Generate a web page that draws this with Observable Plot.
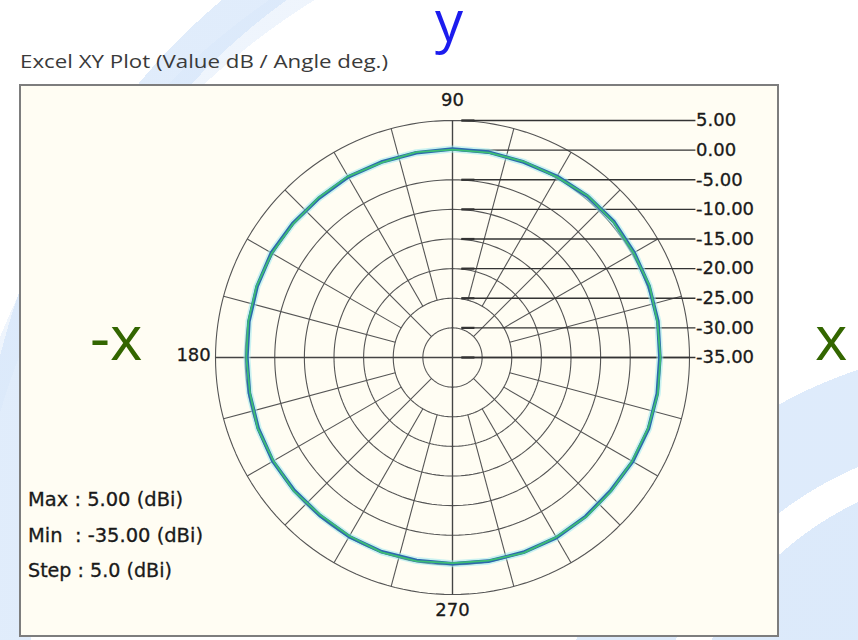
<!DOCTYPE html>
<html>
<head>
<meta charset="utf-8">
<script src="https://cdn.jsdelivr.net/npm/d3@7"></script>
<script src="https://cdn.jsdelivr.net/npm/@observablehq/plot@0.6"></script>
<style>
  html, body { margin: 0; padding: 0; background: #ffffff; }
  #page {
    position: relative; width: 858px; height: 640px; overflow: hidden;
    background:
      radial-gradient(circle at 1000px 800px, rgba(214,230,250,0.85) 0 330px, rgba(255,255,255,0.9) 330px 362px, rgba(214,230,250,0.8) 362px 453px, transparent 453px),
      radial-gradient(circle at 660px 520px, transparent 0 640px, rgba(214,230,250,0.75) 640px 680px, transparent 680px),
      radial-gradient(circle at 700px 620px, transparent 0 730px, rgba(228,238,251,0.6) 730px 755px, transparent 755px),
      #ffffff;
  }
  #frame {
    position: absolute; left: 19px; top: 84px; width: 756px; height: 549px;
    border: 2px solid #7d7d7d; background: #fffdf3;
  }
  #frame svg { display: block; }
  #overlay { position: absolute; left: 0; top: 0; pointer-events: none; }
</style>
</head>
<body>
<div id="page">
  <div id="frame"></div>
  <svg id="overlay" width="858" height="640"></svg>
</div>
<script>
// ---------------- data ----------------
const tickValues = [5, 0, -5, -10, -15, -20, -25, -30, -35];
const tickLabels = ["5.00", "0.00", "-5.00", "-10.00", "-15.00", "-20.00", "-25.00", "-30.00", "-35.00"];
const angleLabelValues = [90, 180, 270];
const angleLabelTexts = ["90", "180", "270"];
const spokeAngles = [0, 15, 30, 45, 60, 75, 90, 105, 120, 135, 150, 165, 180, 195, 210, 225, 240, 255, 270, 285, 300, 315, 330, 345];
const patternAngles = [0, 10, 20, 30, 40, 50, 60, 70, 80, 90, 100, 110, 120, 130, 140, 150, 160, 170, 180,
                       190, 200, 210, 220, 230, 240, 250, 260, 270, 280, 290, 300, 310, 320, 330, 340, 350, 360];
const seriesBlue  = [0.0, 0.2, 0.3, 0.4, 0.6, 0.5, 0.3, 0.1, 0.2, 0.2, 0.1, 0.1, 0.2, 0.1, 0.2, 0.3, 0.1, -0.1, -0.3,
                     -0.2, -0.1, 0.0, -0.1, -0.2, -0.1, -0.1, -0.2, -0.2, -0.1, 0.0, 0.1, 0.0, -0.1, 0.1, 0.2, 0.1, 0.0];
const seriesGreen = [0.1, 0.1, 0.4, 0.3, 0.5, 0.6, 0.2, 0.2, 0.1, 0.1, 0.2, 0.0, 0.3, 0.2, 0.1, 0.2, 0.2, 0.0, -0.2,
                     -0.3, 0.0, -0.1, 0.0, -0.3, -0.2, 0.0, -0.1, -0.3, -0.2, 0.1, 0.0, 0.1, 0.0, 0.0, 0.1, 0.2, 0.1];
const stepValue = 5;

// ---------------- geometry helpers ----------------
const rMin = d3.min(tickValues), rMax = d3.max(tickValues);
const rOf = v => v - rMin;
const rad = deg => deg * Math.PI / 180;
const px = (v, deg) => rOf(v) * Math.cos(rad(deg));
const py = (v, deg) => rOf(v) * Math.sin(rad(deg));
const R = rOf(rMax);

const W = 756, H = 549, cx = 431, cy = 271;
const k = 237 / R; // pixels per dB

const ringPts = tickValues.filter(v => v > rMin).flatMap(v => d3.range(0, 361, 2).map(a => ({v, a})));
const spokes = spokeAngles.map(a => ({a, r0: a % 90 === 0 ? 0 : a % 45 === 0 ? stepValue : 2 * stepValue}));
const axisLines = [0, 90].map(a => ({a}));

const blueRows = patternAngles.map((a, i) => ({a, v: seriesBlue[i]}));
const greenRows = patternAngles.map((a, i) => ({a, v: seriesGreen[i]}));
const tickRows = tickValues.map((v, i) => ({v, label: tickLabels[i]}));
const angleRows = angleLabelValues.map((a, i) => ({a, label: angleLabelTexts[i]}));

const leaderStart = 1.5, leaderEnd = 41.0;
const grid = "#555555";

const chart = Plot.plot({
  width: W, height: H,
  marginTop: 0, marginRight: 0, marginBottom: 0, marginLeft: 0,
  x: {domain: [-cx / k, (W - cx) / k], axis: null},
  y: {domain: [-(H - cy) / k, cy / k], axis: null},
  style: {background: "transparent", overflow: "visible"},
  marks: [
    Plot.line(ringPts, {x: d => px(d.v, d.a), y: d => py(d.v, d.a), z: "v", stroke: grid, strokeWidth: 1.1}),
    Plot.link(spokes, {
      x1: d => d.r0 * Math.cos(rad(d.a)), y1: d => d.r0 * Math.sin(rad(d.a)),
      x2: d => R * Math.cos(rad(d.a)), y2: d => R * Math.sin(rad(d.a)),
      stroke: grid, strokeWidth: 1.1
    }),
    Plot.link(axisLines, {
      x1: d => -R * Math.cos(rad(d.a)), y1: d => -R * Math.sin(rad(d.a)),
      x2: d => R * Math.cos(rad(d.a)), y2: d => R * Math.sin(rad(d.a)),
      stroke: "#444", strokeWidth: 1.3
    }),
    Plot.link(tickRows, {x1: () => leaderStart, x2: () => leaderEnd, y1: d => rOf(d.v), y2: d => rOf(d.v), stroke: "#333", strokeWidth: 1.3}),
    Plot.link(tickRows, {x1: () => leaderStart, x2: () => leaderStart + 2.2, y1: d => rOf(d.v), y2: d => rOf(d.v), stroke: "#333", strokeWidth: 2.2}),
    Plot.line(blueRows, {x: d => px(d.v, d.a), y: d => py(d.v, d.a), stroke: "#9fe9ee", strokeWidth: 7, strokeOpacity: 0.55}),
    Plot.line(blueRows, {x: d => px(d.v, d.a), y: d => py(d.v, d.a), stroke: "#2c68ad", strokeWidth: 3.6}),
    Plot.line(greenRows, {x: d => px(d.v, d.a), y: d => py(d.v, d.a), stroke: "#3dbd74", strokeWidth: 1.8}),
    Plot.text(tickRows, {x: () => leaderEnd + 0.1, y: d => rOf(d.v), text: "label", textAnchor: "start",
      fontFamily: "DejaVu Sans", fontSize: 18, fill: "#1a1a1a", stroke: "#1a1a1a", strokeWidth: 0.3}),
    Plot.text(angleRows.filter(d => d.a !== 180), {x: () => 0, y: d => (d.a === 90 ? 43.4 : 42.6) * Math.sin(rad(d.a)), text: "label",
      fontFamily: "DejaVu Sans", fontSize: 18, fill: "#1a1a1a", stroke: "#1a1a1a", strokeWidth: 0.3}),
    Plot.text(angleRows.filter(d => d.a === 180), {x: d => 40.8 * Math.cos(rad(d.a)), y: () => 0.3, text: "label", textAnchor: "end",
      fontFamily: "DejaVu Sans", fontSize: 18, fill: "#1a1a1a", stroke: "#1a1a1a", strokeWidth: 0.3})
  ]
});
document.getElementById("frame").appendChild(chart);

// ---------------- overlay texts (title, axis letters, info) ----------------
const ov = d3.select("#overlay");
ov.append("text").attr("x", 20).attr("y", 68).attr("textLength", 368).attr("lengthAdjust", "spacingAndGlyphs")
  .attr("font-family", "Open Sans").attr("font-size", 19).attr("fill", "#3a3a3a")
  .text("Excel XY Plot (Value dB / Angle deg.)");
ov.append("text").attr("x", 449).attr("y", 41).attr("text-anchor", "middle")
  .attr("font-family", "Open Sans").attr("font-size", 56).attr("fill", "#1c1cee").text("y");
ov.append("text").attr("x", 90).attr("y", 360)
  .attr("font-family", "Open Sans").attr("font-size", 62).attr("fill", "#336600").text("-x");
ov.append("text").attr("x", 815).attr("y", 360)
  .attr("font-family", "Open Sans").attr("font-size", 62).attr("fill", "#336600").text("x");

const infoLines = [
  {text: `Max : ${rMax.toFixed(2)} (dBi)`, y: 506, len: 155},
  {text: `Min  : ${rMin.toFixed(2)} (dBi)`, y: 542, len: 175},
  {text: `Step : ${stepValue.toFixed(1)} (dBi)`, y: 577, len: 144}
];
infoLines.forEach(l => {
  ov.append("text").attr("x", 28).attr("y", l.y).attr("textLength", l.len).attr("lengthAdjust", "spacingAndGlyphs")
    .attr("font-family", "DejaVu Sans").attr("font-size", 19).attr("fill", "#1a1a1a")
    .attr("stroke", "#1a1a1a").attr("stroke-width", 0.3)
    .attr("xml:space", "preserve").style("white-space", "pre").text(l.text);
});
</script>
</body>
</html>
